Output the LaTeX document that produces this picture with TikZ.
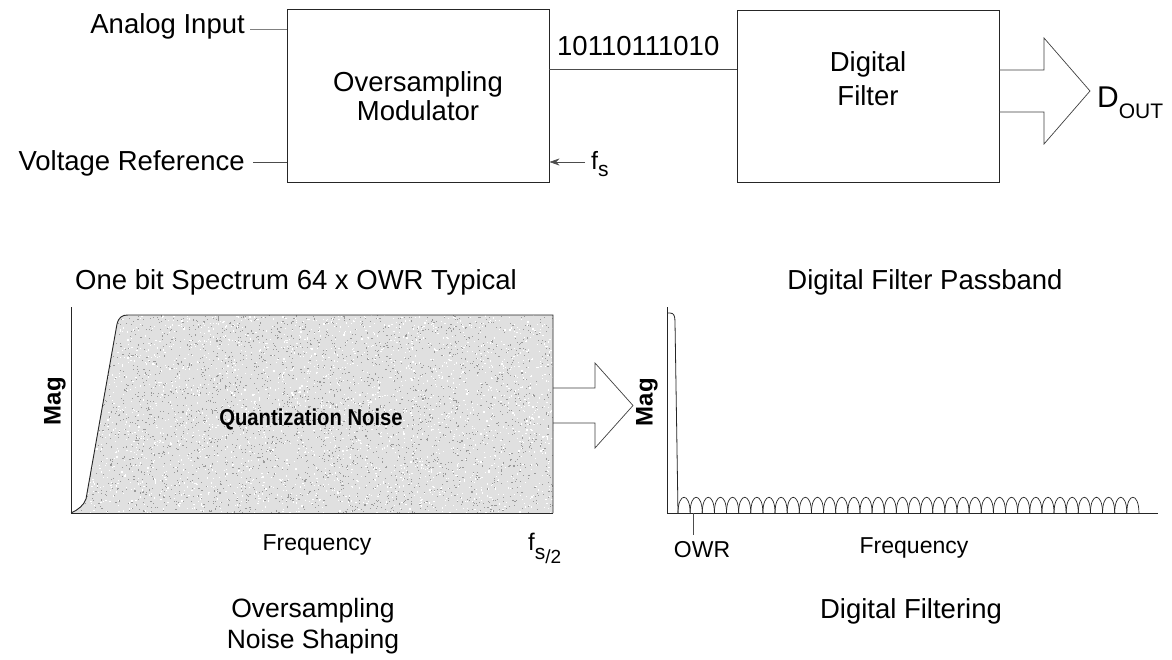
\documentclass[tikz,border=0pt]{standalone}
\usepackage{fontspec}
\setmainfont{Liberation Sans}
\usetikzlibrary{arrows.meta}
\begin{document}
\begin{tikzpicture}[x=1pt,y=-1pt,
  lbl/.style={inner sep=0pt, font=\fontsize{27.5}{30}\selectfont},
  sml/.style={inner sep=0pt, font=\fontsize{23}{26}\selectfont},
  maglbl/.style={inner sep=0pt, rotate=90, font=\bfseries\fontsize{24}{26}\selectfont},
  blk/.style={draw=black!85, line width=0.9pt, inner sep=0pt},
  wire/.style={draw=black!70, line width=0.7pt},
  ax/.style={draw=black!85, line width=0.9pt},
  lobe/.style={draw=black!85, line width=0.7pt},
  bigarrow/.style={draw=black!75, line width=0.7pt, line join=miter},
]
\useasboundingbox (0,0) rectangle (1172,659);
\fill[white] (0,0) rectangle (1172,659);

% ---------- top row ----------
\node[blk, minimum width=262pt, minimum height=173pt] (mod) at (418,95.5) {};
\node[blk, minimum width=262pt, minimum height=172pt] (filt) at (868,96) {};

\node[lbl, anchor=base] (mod1) at (418,91) {Oversampling};
\node[lbl, anchor=base] (mod2) at (418,120) {Modulator};
\node[lbl, anchor=base] (filt1) at (868,71) {Digital};
\node[lbl, anchor=base] (filt2) at (868,105) {Filter};

\node[lbl, anchor=base east] (ain) at (245,33) {Analog Input};
\node[lbl, anchor=base east] (vref) at (245,170) {Voltage Reference};
\node[lbl, anchor=base west] (bits) at (557,55) {10110111010};
\node[inner sep=0pt, anchor=base west, font=\fontsize{25}{28}\selectfont] (fs) at (591,169)
  {f\raisebox{-7pt}{\fontsize{21}{24}\selectfont s}};
\node[inner sep=0pt, anchor=base west, font=\fontsize{30}{32}\selectfont] (dout) at (1097,107)
  {D\raisebox{-11pt}{\fontsize{21}{22}\selectfont OUT}};

\coordinate (aiA) at (250,29);
\coordinate (vrA) at (253,162);
\coordinate (fsA) at (585,162);
\coordinate (bA) at (0,69);
\draw[wire, draw=black!50] (aiA) -- (aiA -| mod.west);
\draw[wire] (vrA) -- (vrA -| mod.west);
\draw[wire, -{Stealth[length=10pt,width=7pt]}] (fsA) -- (fsA -| mod.east);
\draw[wire] (mod.east |- bA) -- (filt.west |- bA);

\coordinate (d1) at (0,70);
\coordinate (d2) at (0,112);
\coordinate (dtip) at (1090,91);
\draw[bigarrow] (filt.east |- d1) -- (1044,70) -- (1044,38) -- (dtip) -- (1044,144) -- (1044,112) -- (filt.east |- d2);

% ---------- bottom left graph ----------
\node[lbl, anchor=base] (t1) at (296,289) {One bit Spectrum 64 x OWR Typical};
\fill[black!12] (71,513) .. controls (78,510) and (84,505) .. (86,499) -- (117,324)
  .. controls (119,317) and (122,315) .. (128,315) -- (553,315) -- (553,513) -- cycle;
\begin{scope}
  \clip (71,513) .. controls (78,510) and (84,505) .. (86,499) -- (117,324)
    .. controls (119,317) and (122,315) .. (128,315) -- (553,315) -- (553,513) -- cycle;
  \pgfmathsetseed{7}
  \foreach \k in {1,...,3000} {
    \pgfmathsetmacro\rx{71+482*rnd}
    \pgfmathsetmacro\ry{315+198*rnd}
    \fill[black!40] (\rx,\ry) rectangle ++(1.1,1.1);
  }
  \foreach \k in {1,...,2500} {
    \pgfmathsetmacro\rx{71+482*rnd}
    \pgfmathsetmacro\ry{315+198*rnd}
    \fill[white] (\rx,\ry) rectangle ++(1.2,1.2);
  }
\end{scope}
\draw[ax] (71,307) -- (71,513) -- (553,513);
\draw[ax] (71,513) .. controls (78,510) and (84,505) .. (86,499) -- (117,324)
  .. controls (119,317) and (122,315) .. (128,315) -- (553,315) -- (553,513);
\node[anchor=base, inner sep=0pt, font=\bfseries\fontsize{23}{25}\selectfont] (qn) at (311,425)
  {\scalebox{0.88}[1]{Quantization Noise}};
\node[maglbl] (mag1) at (55,401) {Mag};
\node[sml, anchor=base] (fr1) at (317,550) {Frequency};
\node[inner sep=0pt, anchor=base west, font=\fontsize{24}{26}\selectfont] (fs2) at (528,550)
  {f\raisebox{-9pt}{\fontsize{21}{24}\selectfont s\raisebox{-4pt}{\fontsize{19}{20}\selectfont /2}}};
\node[lbl, font=\fontsize{26.5}{30}\selectfont, anchor=base] (ons1) at (313,617) {Oversampling};
\node[lbl, font=\fontsize{26.5}{30}\selectfont, anchor=base] (ons2) at (313,648) {Noise Shaping};

% arrow between graphs
\coordinate (mtip) at (633,405.5);
\draw[bigarrow] (553,388) -- (595,388) -- (595,363) -- (mtip) -- (595,448) -- (595,423) -- (553,423);

% ---------- bottom right graph ----------
\node[lbl, anchor=base] (t2) at (925,289) {Digital Filter Passband};
\draw[ax] (667,307) -- (667,513) -- (1158,513);
\draw[lobe, line width=0.8pt] (667,313) -- (670,313) .. controls (674,313) and (675,316) .. (675,322) -- (678,513);
\foreach \i in {0,...,37} {
  \pgfmathsetmacro\xa{678+\i*12.13}
  \pgfmathsetmacro\xb{678+(\i+1)*12.13}
  \draw[lobe] (\xa,513) .. controls (\xa,492) and (\xb,492) .. (\xb,513);
}
\coordinate (owrA) at (693,513);
\draw[wire] (owrA) -- (693,535);
\node[sml, anchor=base] (owr) at (702,557) {OWR};
\node[maglbl] (mag2) at (647,402) {Mag};
\node[sml, anchor=base] (fr2) at (914,553) {Frequency};
\node[lbl, anchor=base] (dfl) at (911,618) {Digital Filtering};
\end{tikzpicture}
\end{document}
